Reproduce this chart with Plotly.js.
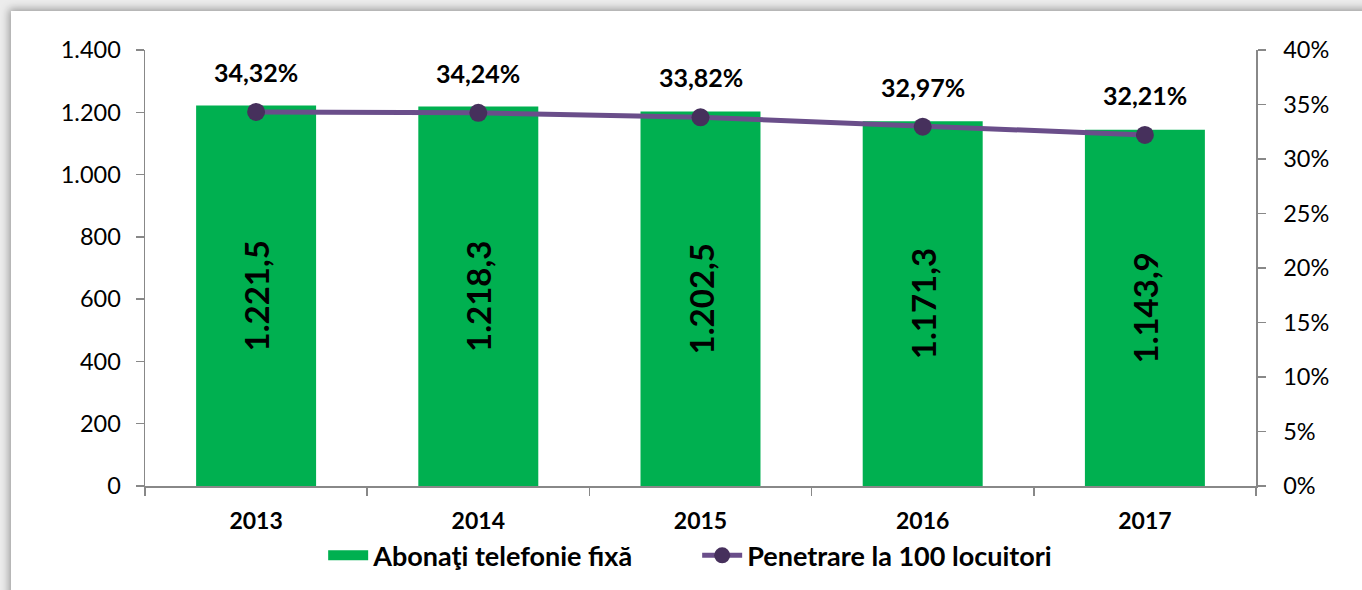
<!DOCTYPE html>
<html>
<head>
<meta charset="utf-8">
<script src="https://cdn.plot.ly/plotly-3.0.1.min.js"></script>
<style>
  html, body { margin:0; padding:0; width:1362px; height:590px; overflow:hidden; background:#ececec; }
  #card { position:absolute; left:11px; top:11px; width:1362px; height:600px; background:#fff;
          box-shadow: -2px -2px 8px rgba(0,0,0,0.35); }
  #chart { position:absolute; left:0; top:0; width:1362px; height:590px; }
</style>
</head>
<body>
<div id="card"></div>
<div id="chart"></div>
<script>
const years = ['2013', '2014', '2015', '2016', '2017'];
const subscribers = [1221.5, 1218.3, 1202.5, 1171.3, 1143.9];
const penetration = [0.3432, 0.3424, 0.3382, 0.3297, 0.3221];
const barName = 'Abonaţi telefonie fixă';
const lineName = 'Penetrare la 100 locuitori';

const FONT = 'Lato, "Open Sans", "DejaVu Sans", sans-serif';
const GREEN = '#00b050';
const xpos = years.map((_, i) => i);
const boundaries = years.map((_, i) => i - 0.5).concat([years.length - 0.5]);

const bars = {
  type: 'bar',
  x: xpos,
  y: subscribers,
  name: barName,
  showlegend: false,
  width: 0.54,
  marker: { color: GREEN },
  texttemplate: '<b>%{y:,.1f}</b>',
  textposition: 'inside',
  insidetextanchor: 'middle',
  textangle: -90,
  constraintext: 'none',
  insidetextfont: { family: FONT, size: 33, color: '#000' },
  hoverinfo: 'skip'
};

// legend-only entry giving the bar series a wide swatch as in the reference
const barLegend = {
  type: 'scatter',
  mode: 'lines',
  x: [null], y: [null],
  name: barName,
  line: { color: GREEN, width: 17 },
  hoverinfo: 'skip'
};

const line = {
  type: 'scatter',
  mode: 'lines+markers',
  x: xpos,
  y: penetration,
  yaxis: 'y2',
  name: lineName,
  line: { color: '#6a4e8a', width: 5 },
  marker: { color: '#46305c', size: 18 },
  hoverinfo: 'skip'
};

const annotations = years.map((yr, i) => ({
  x: xpos[i], y: penetration[i], xref: 'x', yref: 'y2',
  text: '<b>' + (penetration[i] * 100).toFixed(2).replace('.', ',') + '%</b>',
  showarrow: false, yshift: 40,
  font: { family: FONT, size: 25, color: '#000' }
}));

const axisCommon = {
  showgrid: false, zeroline: false, showline: true,
  linecolor: '#888888', linewidth: 1.5,
  ticks: 'outside', ticklen: 8, tickwidth: 1.5, tickcolor: '#888888',
  fixedrange: true
};

const layout = {
  width: 1362, height: 590,
  margin: { l: 145, r: 106, t: 50, b: 104, autoexpand: false },
  paper_bgcolor: 'rgba(0,0,0,0)',
  plot_bgcolor: 'rgba(0,0,0,0)',
  separators: ',.',
  font: { family: FONT, color: '#000' },
  showlegend: true,
  legend: {
    orientation: 'h', x: 0.497, xanchor: 'center', y: -0.16, yanchor: 'middle',
    font: { family: FONT, size: 27, color: '#000', weight: 'bold' },
    itemwidth: 40, traceorder: 'normal',
    entrywidth: 319, entrywidthmode: 'pixels'
  },
  xaxis: {
    showgrid: false, zeroline: false, showline: true,
    linecolor: '#888888', linewidth: 1.5,
    range: [-0.5, years.length - 0.5],
    tickmode: 'array', tickvals: xpos, ticktext: years,
    ticks: '', ticklen: 0,
    minor: { tickmode: 'array', tickvals: boundaries, ticks: 'outside', ticklen: 8, tickwidth: 1.5, tickcolor: '#888888', showgrid: false },
    ticklabelstandoff: 14,
    tickfont: { family: FONT, size: 23, color: '#000', weight: 'bold' },
    fixedrange: true
  },
  yaxis: Object.assign({}, axisCommon, {
    range: [0, 1400], dtick: 200, tickformat: ',d',
    ticklabelstandoff: 10,
    tickfont: { family: FONT, size: 23.5, color: '#000' }
  }),
  yaxis2: Object.assign({}, axisCommon, {
    overlaying: 'y', side: 'right',
    range: [0, 0.4], dtick: 0.05, tickformat: '.0%',
    ticklabelstandoff: 13,
    tickfont: { family: FONT, size: 23.5, color: '#000' }
  }),
  annotations: annotations
};

Plotly.newPlot('chart', [bars, barLegend, line], layout, { displayModeBar: false, staticPlot: true });
</script>
</body>
</html>
